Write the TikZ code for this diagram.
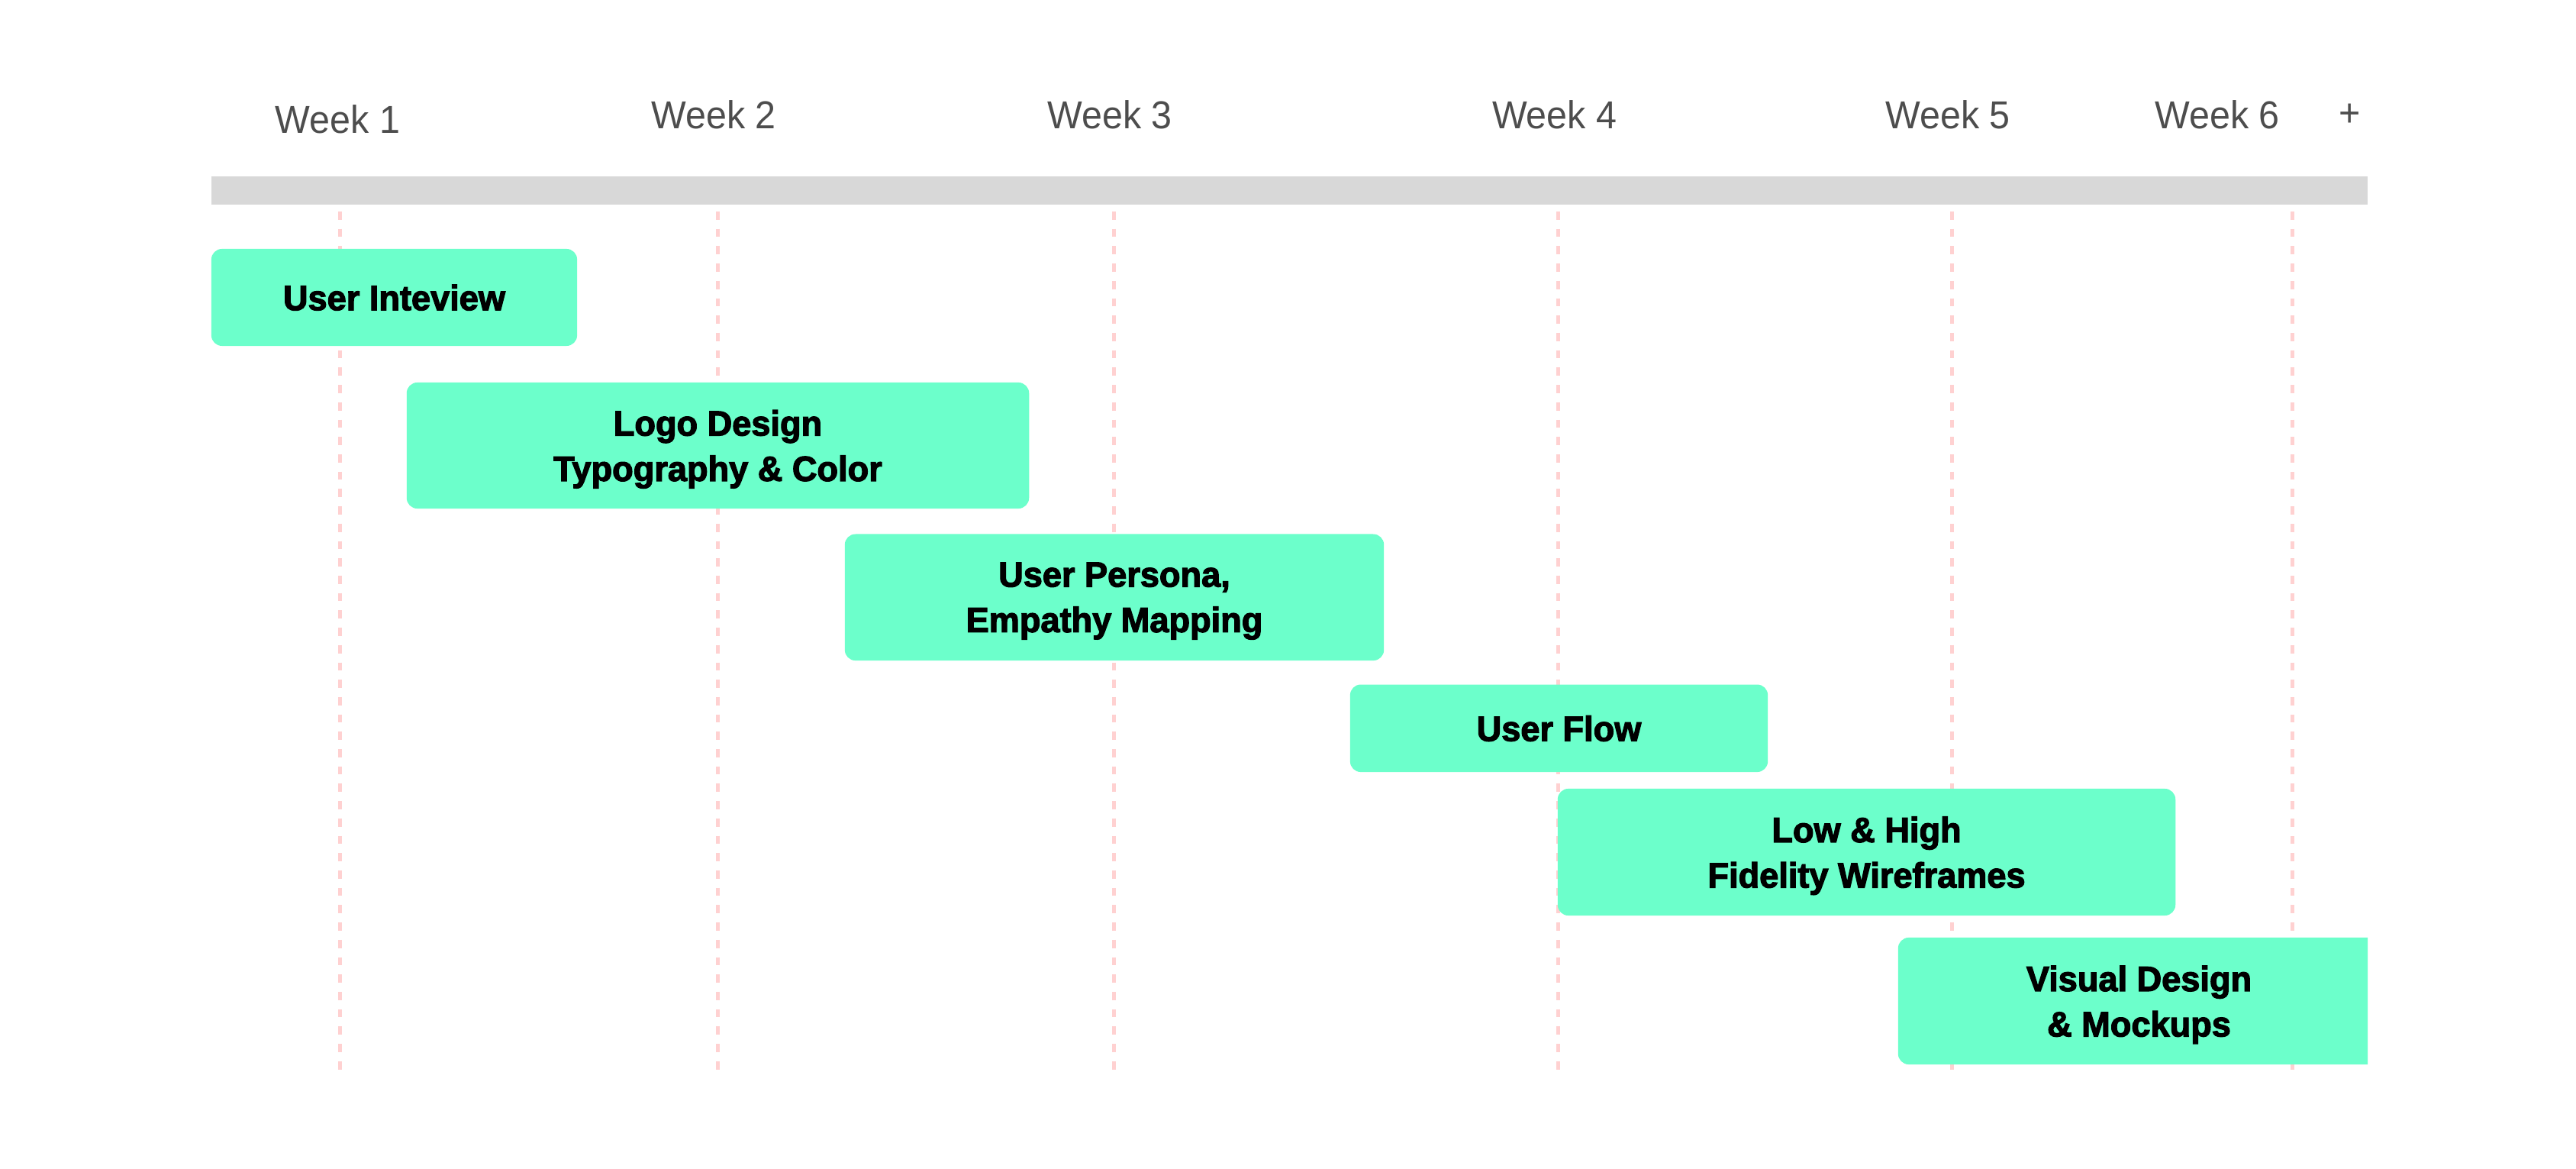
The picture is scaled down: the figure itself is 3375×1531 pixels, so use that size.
\documentclass[tikz,border=0pt]{standalone}
\usepackage{fontspec}
\setmainfont{Liberation Sans}
\newfontfamily\wkfont[FakeStretch=0.95]{Liberation Sans}
\newfontfamily\taskfont[FakeStretch=0.98,BoldFeatures={FakeBold=2.6}]{Liberation Sans}
\definecolor{mint}{RGB}{108,255,203}
\definecolor{guidepink}{RGB}{255,209,209}
\definecolor{barg}{RGB}{216,216,216}
\definecolor{wkgray}{RGB}{77,77,77}
\begin{document}
\begin{tikzpicture}[x=0.01cm,y=-0.01cm,
  week/.style={font=\wkfont\fontsize{14.5}{17}\selectfont, text=wkgray, inner sep=0pt, anchor=base west},
  task/.style={fill=mint, draw=none, rounded corners=0.14cm,
    font=\taskfont\bfseries\fontsize{13.1}{16.9}\selectfont,
    align=center, text depth=0pt, inner sep=0pt},
  guide/.style={draw=guidepink, line width=0.05cm, dash pattern=on 0.107cm off 0.12cm}]
\useasboundingbox (0,0) rectangle (3375,1531);
\fill[white] (0,0) rectangle (3375,1531);
% timeline bar
\fill[barg] (277,230.7) rectangle (3102,268.3);
% guide lines
\foreach \n/\gx in {1/445, 2/940.7, 3/1459, 4/2041.2, 5/2557.3, 6/3003}{
  \coordinate (g\n t) at (\gx,277);
  \coordinate (g\n b) at (\gx,1407);
  \draw[guide] (g\n t) -- (g\n b);
}
% tasks
\node[task, minimum width=4.79cm, minimum height=1.27cm] (t1) at (516.5,389.5) {User Inteview};
\node[task, minimum width=8.15cm, minimum height=1.65cm] (t2) at (940.5,583.5) {Logo Design\\Typography \& Color};
\node[task, minimum width=7.06cm, minimum height=1.655cm] (t3) at (1460,782.3) {User Persona,\\Empathy Mapping};
\node[task, minimum width=5.47cm, minimum height=1.145cm] (t4) at (2042.5,953.8) {User Flow};
\node[task, minimum width=8.09cm, minimum height=1.66cm] (t5) at (2445.5,1116) {Low \& High\\Fidelity Wireframes};
\begin{scope}
  \clip (0,0) rectangle (3102,1531);
  \node[task, minimum width=6.31cm, minimum height=1.66cm] (t6) at (2802.5,1311) {Visual Design\\\& Mockups};
\end{scope}
% week labels
\node[week] (w1) at (360,174.3) {Week 1};
\node[week] (w2) at (852.8,168.7) {Week 2};
\node[week] (w3) at (1371.8,169) {Week 3};
\node[week] (w4) at (1954.4,169) {Week 4};
\node[week] (w5) at (2469.7,168.7) {Week 5};
\node[week] (w6) at (2822.9,168.7) {Week 6};
\node[font=\wkfont\fontsize{14.5}{17}\selectfont, text=wkgray, inner sep=0pt] (plus) at (3079,151) {+};
\end{tikzpicture}
\end{document}
